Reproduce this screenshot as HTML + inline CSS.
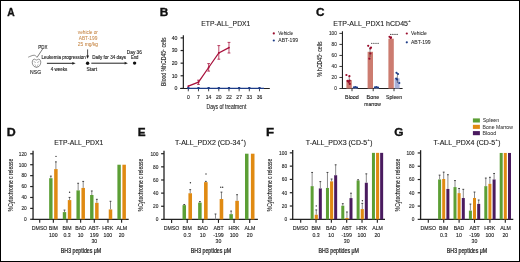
<!DOCTYPE html>
<html><head><meta charset="utf-8"><style>
html,body{margin:0;padding:0;background:#fff;}
svg{display:block;will-change:transform;}
text{font-family:"Liberation Sans",sans-serif;stroke-width:0.12px;stroke:currentColor;}
</style></head><body>
<svg width="520" height="262" viewBox="0 0 520 262">
<rect x="0" y="0" width="520" height="262" fill="#fff"/>
<text x="7.24" y="16.20" font-size="11.3" fill="#111" color="#111" textLength="7.43" lengthAdjust="spacingAndGlyphs" font-weight="bold" style="stroke-width:0.35px">A</text>
<text x="159.81" y="16.20" font-size="11.3" fill="#111" color="#111" textLength="8.52" lengthAdjust="spacingAndGlyphs" font-weight="bold" style="stroke-width:0.35px">B</text>
<text x="316.02" y="16.20" font-size="11.3" fill="#111" color="#111" textLength="8.50" lengthAdjust="spacingAndGlyphs" font-weight="bold" style="stroke-width:0.35px">C</text>
<text x="6.67" y="136.20" font-size="11.3" fill="#111" color="#111" textLength="8.95" lengthAdjust="spacingAndGlyphs" font-weight="bold" style="stroke-width:0.35px">D</text>
<text x="137.81" y="136.20" font-size="11.3" fill="#111" color="#111" textLength="7.85" lengthAdjust="spacingAndGlyphs" font-weight="bold" style="stroke-width:0.35px">E</text>
<text x="266.11" y="136.20" font-size="11.3" fill="#111" color="#111" textLength="8.07" lengthAdjust="spacingAndGlyphs" font-weight="bold" style="stroke-width:0.35px">F</text>
<text x="394.31" y="136.20" font-size="11.3" fill="#111" color="#111" textLength="9.22" lengthAdjust="spacingAndGlyphs" font-weight="bold" style="stroke-width:0.35px">G</text>
<text x="77.88" y="34.00" font-size="4.6" fill="#c78848" color="#c78848" textLength="20.00" lengthAdjust="spacingAndGlyphs" style="stroke-width:0.05px">vehicle or</text>
<text x="78.69" y="39.70" font-size="4.6" fill="#c78848" color="#c78848" textLength="18.64" lengthAdjust="spacingAndGlyphs" style="stroke-width:0.05px">ABT-199</text>
<text x="77.85" y="45.50" font-size="4.6" fill="#c78848" color="#c78848" textLength="20.26" lengthAdjust="spacingAndGlyphs" style="stroke-width:0.05px">25 mg/kg</text>
<text x="38.23" y="48.60" font-size="4.6" fill="#222" color="#222" textLength="9.16" lengthAdjust="spacingAndGlyphs">PDX</text>
<text x="41.53" y="59.30" font-size="4.6" fill="#222" color="#222" textLength="44.16" lengthAdjust="spacingAndGlyphs">Leukemia progression</text>
<text x="50.70" y="70.50" font-size="4.7" fill="#222" color="#222" textLength="16.57" lengthAdjust="spacingAndGlyphs">4 weeks</text>
<text x="30.08" y="74.40" font-size="5.4" fill="#222" color="#222" textLength="11.00" lengthAdjust="spacingAndGlyphs">NSG</text>
<text x="86.57" y="70.90" font-size="4.7" fill="#222" color="#222" textLength="10.46" lengthAdjust="spacingAndGlyphs">Start</text>
<text x="92.23" y="59.30" font-size="4.6" fill="#222" color="#222" textLength="33.84" lengthAdjust="spacingAndGlyphs">Daily for 34 days</text>
<text x="126.81" y="54.00" font-size="4.7" fill="#222" color="#222" textLength="15.10" lengthAdjust="spacingAndGlyphs">Day 36</text>
<text x="130.95" y="59.30" font-size="4.7" fill="#222" color="#222" textLength="7.52" lengthAdjust="spacingAndGlyphs">End</text>
<line x1="46.90" y1="63.30" x2="73.00" y2="63.30" stroke="#222" stroke-width="1.0"/>
<path d="M75.6,63.3 L72.3,61.9 L72.3,64.7 Z" fill="#222"/>
<line x1="91.30" y1="63.20" x2="125.50" y2="63.20" stroke="#222" stroke-width="1.0"/>
<path d="M127.9,63.2 L124.6,61.8 L124.6,64.6 Z" fill="#222"/>
<line x1="87.60" y1="49.40" x2="87.60" y2="56.50" stroke="#222" stroke-width="0.8"/>
<path d="M87.6,58.7 L86.2,55.4 L89.0,55.4 Z" fill="#222"/>
<circle cx="87.60" cy="63.20" r="1.7" fill="#111"/>
<circle cx="134.60" cy="63.10" r="1.7" fill="#111"/>
<line x1="42.70" y1="48.90" x2="36.90" y2="57.60" stroke="#222" stroke-width="0.6"/>
<path d="M28.2,57.2 Q29.5,56.6 31.0,56.0 Q33.0,55.0 34.6,55.3 Q35.8,55.6 36.6,56.8" fill="none" stroke="#444" stroke-width="0.6"/>
<path d="M33.2,59.6 C31.6,61.0 32.0,64.6 34.0,66.4 Q36.5,68.4 39.0,66.4 C41.0,64.6 41.4,61.0 39.8,59.6 Q38.6,58.7 37.6,59.6 Q36.5,60.4 35.4,59.6 Q34.4,58.7 33.2,59.6 Z" fill="none" stroke="#555" stroke-width="0.65"/>
<path d="M33.7,61.4 L35.8,62.6 M39.3,61.4 L37.2,62.6 M34.6,64.4 L35.9,65.6 M38.4,64.4 L37.1,65.6 M35.6,66.4 L36.5,67.0 L37.4,66.4" fill="none" stroke="#666" stroke-width="0.5"/>
<text x="201.34" y="26.00" font-size="7.8" fill="#222" color="#222" textLength="48.99" lengthAdjust="spacingAndGlyphs">ETP-ALL_PDX1</text>
<line x1="183.35" y1="35.30" x2="183.35" y2="89.00" stroke="#222" stroke-width="1.2"/>
<line x1="180.20" y1="88.50" x2="269.80" y2="88.50" stroke="#222" stroke-width="1"/>
<line x1="180.60" y1="88.40" x2="183.40" y2="88.40" stroke="#222" stroke-width="1.2"/>
<text x="174.61" y="90.20" font-size="5.2" fill="#222" color="#222">0</text>
<line x1="180.60" y1="75.78" x2="183.40" y2="75.78" stroke="#222" stroke-width="1.2"/>
<text x="171.72" y="77.58" font-size="5.2" fill="#222" color="#222">10</text>
<line x1="180.60" y1="63.15" x2="183.40" y2="63.15" stroke="#222" stroke-width="1.2"/>
<text x="171.72" y="64.95" font-size="5.2" fill="#222" color="#222">20</text>
<line x1="180.60" y1="50.53" x2="183.40" y2="50.53" stroke="#222" stroke-width="1.2"/>
<text x="171.72" y="52.33" font-size="5.2" fill="#222" color="#222">30</text>
<line x1="180.60" y1="37.90" x2="183.40" y2="37.90" stroke="#222" stroke-width="1.2"/>
<text x="171.72" y="39.70" font-size="5.2" fill="#222" color="#222">40</text>
<line x1="188.30" y1="88.50" x2="188.30" y2="91.30" stroke="#222" stroke-width="0.8"/>
<text x="186.91" y="99.20" font-size="5.0" fill="#222" color="#222" textLength="2.78" lengthAdjust="spacingAndGlyphs">0</text>
<line x1="198.47" y1="88.50" x2="198.47" y2="91.30" stroke="#222" stroke-width="0.8"/>
<text x="197.08" y="99.20" font-size="5.0" fill="#222" color="#222" textLength="2.78" lengthAdjust="spacingAndGlyphs">7</text>
<line x1="208.64" y1="88.50" x2="208.64" y2="91.30" stroke="#222" stroke-width="0.8"/>
<text x="205.74" y="99.20" font-size="5.0" fill="#222" color="#222" textLength="5.56" lengthAdjust="spacingAndGlyphs">14</text>
<line x1="218.81" y1="88.50" x2="218.81" y2="91.30" stroke="#222" stroke-width="0.8"/>
<text x="216.00" y="99.20" font-size="5.0" fill="#222" color="#222" textLength="5.56" lengthAdjust="spacingAndGlyphs">20</text>
<line x1="228.98" y1="88.50" x2="228.98" y2="91.30" stroke="#222" stroke-width="0.8"/>
<text x="226.20" y="99.20" font-size="5.0" fill="#222" color="#222" textLength="5.56" lengthAdjust="spacingAndGlyphs">22</text>
<line x1="239.15" y1="88.50" x2="239.15" y2="91.30" stroke="#222" stroke-width="0.8"/>
<text x="236.37" y="99.20" font-size="5.0" fill="#222" color="#222" textLength="5.56" lengthAdjust="spacingAndGlyphs">27</text>
<line x1="249.32" y1="88.50" x2="249.32" y2="91.30" stroke="#222" stroke-width="0.8"/>
<text x="246.56" y="99.20" font-size="5.0" fill="#222" color="#222" textLength="5.56" lengthAdjust="spacingAndGlyphs">33</text>
<line x1="259.49" y1="88.50" x2="259.49" y2="91.30" stroke="#222" stroke-width="0.8"/>
<text x="256.73" y="99.20" font-size="5.0" fill="#222" color="#222" textLength="5.56" lengthAdjust="spacingAndGlyphs">36</text>
<text x="206.49" y="109.30" font-size="7.2" fill="#222" color="#222" textLength="39.85" lengthAdjust="spacingAndGlyphs">Days of treatment</text>
<text transform="translate(165.90,85.91) rotate(-90)" x="0" y="0" font-size="6.3" fill="#222" color="#222" textLength="48.59" lengthAdjust="spacingAndGlyphs">Blood %hCD45<tspan dy="-2.08" font-size="3.91">+</tspan><tspan dy="2.08"> cells</tspan></text>
<line x1="187.50" y1="88.30" x2="264.00" y2="88.30" stroke="#1d3c88" stroke-width="1.2"/>
<path d="M187.00,87.1 L189.60,87.1 L188.30,90.0 Z" fill="#1d3c88"/>
<path d="M197.17,87.1 L199.77,87.1 L198.47,90.0 Z" fill="#1d3c88"/>
<path d="M207.34,87.1 L209.94,87.1 L208.64,90.0 Z" fill="#1d3c88"/>
<path d="M217.51,87.1 L220.11,87.1 L218.81,90.0 Z" fill="#1d3c88"/>
<path d="M227.68,87.1 L230.28,87.1 L228.98,90.0 Z" fill="#1d3c88"/>
<path d="M237.85,87.1 L240.45,87.1 L239.15,90.0 Z" fill="#1d3c88"/>
<path d="M248.02,87.1 L250.62,87.1 L249.32,90.0 Z" fill="#1d3c88"/>
<path d="M258.19,87.1 L260.79,87.1 L259.49,90.0 Z" fill="#1d3c88"/>
<polyline points="188.30,86.20 198.47,82.20 208.64,67.50 218.81,52.90 228.98,47.60" fill="none" stroke="#a8113c" stroke-width="1.25"/>
<circle cx="188.30" cy="86.20" r="0.9" fill="#a8113c"/>
<line x1="198.47" y1="80.20" x2="198.47" y2="84.40" stroke="#a8113c" stroke-width="0.75"/>
<line x1="197.07" y1="80.20" x2="199.87" y2="80.20" stroke="#a8113c" stroke-width="0.8"/>
<line x1="197.07" y1="84.40" x2="199.87" y2="84.40" stroke="#a8113c" stroke-width="0.8"/>
<circle cx="198.47" cy="82.20" r="0.9" fill="#a8113c"/>
<line x1="208.64" y1="63.60" x2="208.64" y2="71.10" stroke="#a8113c" stroke-width="0.75"/>
<line x1="207.24" y1="63.60" x2="210.04" y2="63.60" stroke="#a8113c" stroke-width="0.8"/>
<line x1="207.24" y1="71.10" x2="210.04" y2="71.10" stroke="#a8113c" stroke-width="0.8"/>
<circle cx="208.64" cy="67.50" r="0.9" fill="#a8113c"/>
<line x1="218.81" y1="45.60" x2="218.81" y2="59.20" stroke="#a8113c" stroke-width="0.75"/>
<line x1="217.41" y1="45.60" x2="220.21" y2="45.60" stroke="#a8113c" stroke-width="0.8"/>
<line x1="217.41" y1="59.20" x2="220.21" y2="59.20" stroke="#a8113c" stroke-width="0.8"/>
<circle cx="218.81" cy="52.90" r="0.9" fill="#a8113c"/>
<line x1="228.98" y1="42.40" x2="228.98" y2="53.00" stroke="#a8113c" stroke-width="0.75"/>
<line x1="227.58" y1="42.40" x2="230.38" y2="42.40" stroke="#a8113c" stroke-width="0.8"/>
<line x1="227.58" y1="53.00" x2="230.38" y2="53.00" stroke="#a8113c" stroke-width="0.8"/>
<circle cx="228.98" cy="47.60" r="0.9" fill="#a8113c"/>
<circle cx="273.80" cy="33.40" r="1.1" fill="#9a0c2c"/>
<circle cx="273.80" cy="40.50" r="1.1" fill="#1d3c88"/>
<text x="278.28" y="34.80" font-size="4.8" fill="#222" color="#222" textLength="14.93" lengthAdjust="spacingAndGlyphs" style="stroke-width:0.05px">Vehicle</text>
<text x="278.29" y="41.90" font-size="4.8" fill="#222" color="#222" textLength="19.75" lengthAdjust="spacingAndGlyphs" style="stroke-width:0.05px">ABT-199</text>
<text x="333.32" y="26.00" font-size="7.8" fill="#222" color="#222" textLength="74.67" lengthAdjust="spacingAndGlyphs">ETP-ALL_PDX1 hCD45</text>
<text x="408.30" y="22.10" font-size="4.2" fill="#222" color="#222" textLength="2.40" lengthAdjust="spacingAndGlyphs">+</text>
<line x1="342.45" y1="31.20" x2="342.45" y2="89.00" stroke="#222" stroke-width="1.1"/>
<line x1="341.90" y1="88.50" x2="402.60" y2="88.50" stroke="#222" stroke-width="1.1"/>
<line x1="339.40" y1="88.50" x2="342.40" y2="88.50" stroke="#222" stroke-width="0.9"/>
<text x="334.17" y="90.20" font-size="4.7" fill="#333" color="#333">0</text>
<line x1="339.40" y1="77.48" x2="342.40" y2="77.48" stroke="#222" stroke-width="0.9"/>
<text x="331.56" y="79.18" font-size="4.7" fill="#333" color="#333">20</text>
<line x1="339.40" y1="66.46" x2="342.40" y2="66.46" stroke="#222" stroke-width="0.9"/>
<text x="331.56" y="68.16" font-size="4.7" fill="#333" color="#333">40</text>
<line x1="339.40" y1="55.44" x2="342.40" y2="55.44" stroke="#222" stroke-width="0.9"/>
<text x="331.56" y="57.14" font-size="4.7" fill="#333" color="#333">60</text>
<line x1="339.40" y1="44.42" x2="342.40" y2="44.42" stroke="#222" stroke-width="0.9"/>
<text x="331.56" y="46.12" font-size="4.7" fill="#333" color="#333">80</text>
<line x1="339.40" y1="33.40" x2="342.40" y2="33.40" stroke="#222" stroke-width="0.9"/>
<text x="328.94" y="35.10" font-size="4.7" fill="#333" color="#333">100</text>
<text transform="translate(322.10,76.88) rotate(-90)" x="0" y="0" font-size="6.3" fill="#222" color="#222" textLength="35.36" lengthAdjust="spacingAndGlyphs">% hCD45<tspan dy="-2.08" font-size="3.91">+</tspan><tspan dy="2.08"> cells</tspan></text>
<line x1="352.00" y1="88.50" x2="352.00" y2="91.20" stroke="#222" stroke-width="0.9"/>
<line x1="373.20" y1="88.50" x2="373.20" y2="91.20" stroke="#222" stroke-width="0.9"/>
<line x1="394.00" y1="88.50" x2="394.00" y2="91.20" stroke="#222" stroke-width="0.9"/>
<text x="345.06" y="98.70" font-size="4.8" fill="#222" color="#222" textLength="13.79" lengthAdjust="spacingAndGlyphs">Blood</text>
<text x="366.55" y="98.70" font-size="4.8" fill="#222" color="#222" textLength="12.69" lengthAdjust="spacingAndGlyphs">Bone</text>
<text x="364.37" y="105.60" font-size="4.8" fill="#222" color="#222" textLength="16.52" lengthAdjust="spacingAndGlyphs">marrow</text>
<text x="386.01" y="99.00" font-size="4.8" fill="#222" color="#222" textLength="16.07" lengthAdjust="spacingAndGlyphs">Spleen</text>
<rect x="346.40" y="80.10" width="5.40" height="8.40" fill="#cc7c70"/>
<rect x="367.60" y="51.80" width="5.40" height="36.70" fill="#cc7c70"/>
<rect x="388.40" y="38.70" width="5.40" height="49.80" fill="#cc7c70"/>
<rect x="352.60" y="87.20" width="5.00" height="1.30" fill="#a9b1d9"/>
<rect x="373.80" y="87.30" width="5.00" height="1.20" fill="#a9b1d9"/>
<rect x="394.60" y="78.30" width="5.00" height="10.20" fill="#a9b1d9"/>
<line x1="349.20" y1="76.00" x2="349.20" y2="84.00" stroke="#222" stroke-width="0.5"/>
<circle cx="346.40" cy="75.00" r="1.1" fill="#9a0c2c"/>
<circle cx="349.40" cy="76.20" r="1.1" fill="#9a0c2c"/>
<circle cx="347.60" cy="80.90" r="1.1" fill="#9a0c2c"/>
<circle cx="349.70" cy="80.60" r="1.1" fill="#9a0c2c"/>
<circle cx="349.80" cy="83.90" r="1.1" fill="#9a0c2c"/>
<circle cx="348.50" cy="81.80" r="1.1" fill="#9a0c2c"/>
<line x1="370.00" y1="47.00" x2="370.00" y2="57.00" stroke="#222" stroke-width="0.5"/>
<circle cx="368.20" cy="45.80" r="1.1" fill="#9a0c2c"/>
<circle cx="370.30" cy="48.50" r="1.1" fill="#9a0c2c"/>
<circle cx="371.00" cy="47.60" r="1.1" fill="#9a0c2c"/>
<circle cx="369.40" cy="58.70" r="1.1" fill="#9a0c2c"/>
<circle cx="370.40" cy="53.50" r="1.1" fill="#9a0c2c"/>
<circle cx="389.50" cy="36.80" r="1.1" fill="#9a0c2c"/>
<circle cx="390.70" cy="38.00" r="1.1" fill="#9a0c2c"/>
<circle cx="391.00" cy="37.40" r="1.1" fill="#9a0c2c"/>
<circle cx="354.00" cy="87.30" r="1.1" fill="#1d3c88"/>
<circle cx="355.50" cy="87.00" r="1.1" fill="#1d3c88"/>
<circle cx="357.00" cy="87.50" r="1.1" fill="#1d3c88"/>
<circle cx="375.00" cy="87.30" r="1.1" fill="#1d3c88"/>
<circle cx="376.50" cy="87.00" r="1.1" fill="#1d3c88"/>
<circle cx="378.00" cy="87.50" r="1.1" fill="#1d3c88"/>
<line x1="397.40" y1="73.00" x2="397.40" y2="83.00" stroke="#222" stroke-width="0.5"/>
<circle cx="396.50" cy="72.80" r="1.1" fill="#1d3c88"/>
<circle cx="398.00" cy="74.00" r="1.1" fill="#1d3c88"/>
<circle cx="397.00" cy="79.50" r="1.1" fill="#1d3c88"/>
<circle cx="399.30" cy="83.00" r="1.1" fill="#1d3c88"/>
<circle cx="396.20" cy="78.50" r="1.1" fill="#1d3c88"/>
<circle cx="371.80" cy="43.30" r="0.6" fill="#222"/>
<circle cx="373.90" cy="43.30" r="0.6" fill="#222"/>
<circle cx="376.00" cy="43.30" r="0.6" fill="#222"/>
<circle cx="378.10" cy="43.30" r="0.6" fill="#222"/>
<circle cx="390.80" cy="34.40" r="0.6" fill="#222"/>
<circle cx="392.90" cy="34.40" r="0.6" fill="#222"/>
<circle cx="395.00" cy="34.40" r="0.6" fill="#222"/>
<circle cx="397.10" cy="34.40" r="0.6" fill="#222"/>
<circle cx="406.80" cy="33.50" r="1.1" fill="#9a0c2c"/>
<circle cx="406.80" cy="42.30" r="1.1" fill="#1d3c88"/>
<text x="410.98" y="34.90" font-size="4.8" fill="#222" color="#222" textLength="15.74" lengthAdjust="spacingAndGlyphs" style="stroke-width:0.05px">Vehicle</text>
<text x="410.99" y="43.60" font-size="4.8" fill="#222" color="#222" textLength="19.65" lengthAdjust="spacingAndGlyphs" style="stroke-width:0.05px">ABT-199</text>
<line x1="33.05" y1="150.80" x2="33.05" y2="219.90" stroke="#222" stroke-width="1.3"/>
<line x1="32.45" y1="219.30" x2="128.70" y2="219.30" stroke="#222" stroke-width="1.2"/>
<line x1="30.15" y1="219.30" x2="33.05" y2="219.30" stroke="#222" stroke-width="1.2"/>
<text x="24.12" y="221.10" font-size="4.8" fill="#2a2a2a" color="#2a2a2a">0</text>
<line x1="30.15" y1="208.38" x2="33.05" y2="208.38" stroke="#222" stroke-width="1.2"/>
<text x="21.45" y="210.18" font-size="4.8" fill="#2a2a2a" color="#2a2a2a">20</text>
<line x1="30.15" y1="197.47" x2="33.05" y2="197.47" stroke="#222" stroke-width="1.2"/>
<text x="21.45" y="199.27" font-size="4.8" fill="#2a2a2a" color="#2a2a2a">40</text>
<line x1="30.15" y1="186.55" x2="33.05" y2="186.55" stroke="#222" stroke-width="1.2"/>
<text x="21.45" y="188.35" font-size="4.8" fill="#2a2a2a" color="#2a2a2a">60</text>
<line x1="30.15" y1="175.64" x2="33.05" y2="175.64" stroke="#222" stroke-width="1.2"/>
<text x="21.45" y="177.44" font-size="4.8" fill="#2a2a2a" color="#2a2a2a">80</text>
<line x1="30.15" y1="164.72" x2="33.05" y2="164.72" stroke="#222" stroke-width="1.2"/>
<text x="18.78" y="166.52" font-size="4.8" fill="#2a2a2a" color="#2a2a2a">100</text>
<line x1="30.15" y1="153.80" x2="33.05" y2="153.80" stroke="#222" stroke-width="1.2"/>
<text x="18.78" y="155.60" font-size="4.8" fill="#2a2a2a" color="#2a2a2a">120</text>
<text transform="translate(12.50,211.38) rotate(-90)" x="0" y="0" font-size="6.4" fill="#222" color="#222" textLength="52.60" lengthAdjust="spacingAndGlyphs">%Cytochrome c release</text>
<text x="54.34" y="145.20" font-size="6.6" fill="#222" color="#222" textLength="48.99" lengthAdjust="spacingAndGlyphs">ETP-ALL_PDX1</text>
<line x1="39.70" y1="219.30" x2="39.70" y2="222.80" stroke="#222" stroke-width="1.1"/>
<line x1="53.35" y1="219.30" x2="53.35" y2="222.80" stroke="#222" stroke-width="1.1"/>
<line x1="67.00" y1="219.30" x2="67.00" y2="222.80" stroke="#222" stroke-width="1.1"/>
<line x1="80.65" y1="219.30" x2="80.65" y2="222.80" stroke="#222" stroke-width="1.1"/>
<line x1="94.30" y1="219.30" x2="94.30" y2="222.80" stroke="#222" stroke-width="1.1"/>
<line x1="107.95" y1="219.30" x2="107.95" y2="222.80" stroke="#222" stroke-width="1.1"/>
<line x1="121.60" y1="219.30" x2="121.60" y2="222.80" stroke="#222" stroke-width="1.1"/>
<text x="31.81" y="230.00" font-size="5.2" fill="#222" color="#222" textLength="15.60" lengthAdjust="spacingAndGlyphs">DMSO</text>
<text x="48.73" y="230.00" font-size="5.2" fill="#222" color="#222" textLength="9.24" lengthAdjust="spacingAndGlyphs">BIM</text>
<text x="48.92" y="236.80" font-size="5.2" fill="#222" color="#222" textLength="8.68" lengthAdjust="spacingAndGlyphs">100</text>
<text x="62.38" y="230.00" font-size="5.2" fill="#222" color="#222" textLength="9.24" lengthAdjust="spacingAndGlyphs">BIM</text>
<text x="63.40" y="236.80" font-size="5.2" fill="#222" color="#222" textLength="7.23" lengthAdjust="spacingAndGlyphs">0.3</text>
<text x="75.22" y="230.00" font-size="5.2" fill="#222" color="#222" textLength="10.69" lengthAdjust="spacingAndGlyphs">BAD</text>
<text x="77.66" y="236.80" font-size="5.2" fill="#222" color="#222" textLength="5.78" lengthAdjust="spacingAndGlyphs">10</text>
<text x="88.63" y="230.00" font-size="5.2" fill="#222" color="#222" textLength="11.56" lengthAdjust="spacingAndGlyphs">ABT-</text>
<text x="89.89" y="236.80" font-size="5.2" fill="#222" color="#222" textLength="8.68" lengthAdjust="spacingAndGlyphs">199</text>
<text x="91.41" y="243.20" font-size="5.2" fill="#222" color="#222" textLength="5.78" lengthAdjust="spacingAndGlyphs">30</text>
<text x="102.28" y="230.00" font-size="5.2" fill="#222" color="#222" textLength="10.98" lengthAdjust="spacingAndGlyphs">HRK</text>
<text x="103.52" y="236.80" font-size="5.2" fill="#222" color="#222" textLength="8.68" lengthAdjust="spacingAndGlyphs">100</text>
<text x="116.46" y="230.00" font-size="5.2" fill="#222" color="#222" textLength="10.69" lengthAdjust="spacingAndGlyphs">ALM</text>
<text x="118.68" y="236.80" font-size="5.2" fill="#222" color="#222" textLength="5.78" lengthAdjust="spacingAndGlyphs">20</text>
<text x="60.87" y="253.10" font-size="6.4" fill="#222" color="#222" textLength="40.36" lengthAdjust="spacingAndGlyphs" style="stroke-width:0.22px">BH3 peptides μM</text>
<rect x="49.15" y="178.20" width="3.40" height="41.10" fill="#5c9f35"/>
<line x1="50.85" y1="176.13" x2="50.85" y2="178.20" stroke="#8c8c8c" stroke-width="1.0"/>
<line x1="49.95" y1="176.13" x2="51.75" y2="176.13" stroke="#333" stroke-width="0.9"/>
<rect x="54.15" y="169.09" width="3.50" height="50.21" fill="#e08a12"/>
<line x1="55.90" y1="161.88" x2="55.90" y2="169.09" stroke="#8c8c8c" stroke-width="1.0"/>
<line x1="55.00" y1="161.88" x2="56.80" y2="161.88" stroke="#333" stroke-width="0.9"/>
<rect x="62.80" y="212.10" width="3.40" height="7.20" fill="#5c9f35"/>
<line x1="64.50" y1="210.08" x2="64.50" y2="212.10" stroke="#8c8c8c" stroke-width="1.0"/>
<line x1="63.60" y1="210.08" x2="65.40" y2="210.08" stroke="#333" stroke-width="0.9"/>
<rect x="67.80" y="200.09" width="3.50" height="19.21" fill="#e08a12"/>
<line x1="69.55" y1="197.41" x2="69.55" y2="200.09" stroke="#8c8c8c" stroke-width="1.0"/>
<line x1="68.65" y1="197.41" x2="70.45" y2="197.41" stroke="#333" stroke-width="0.9"/>
<rect x="76.45" y="190.37" width="3.40" height="28.93" fill="#5c9f35"/>
<line x1="78.15" y1="183.28" x2="78.15" y2="190.37" stroke="#8c8c8c" stroke-width="1.0"/>
<line x1="77.25" y1="183.28" x2="79.05" y2="183.28" stroke="#333" stroke-width="0.9"/>
<rect x="81.45" y="187.92" width="3.50" height="31.38" fill="#e08a12"/>
<line x1="83.20" y1="181.42" x2="83.20" y2="187.92" stroke="#8c8c8c" stroke-width="1.0"/>
<line x1="82.30" y1="181.42" x2="84.10" y2="181.42" stroke="#333" stroke-width="0.9"/>
<rect x="90.10" y="195.01" width="3.40" height="24.29" fill="#5c9f35"/>
<line x1="91.80" y1="190.97" x2="91.80" y2="195.01" stroke="#8c8c8c" stroke-width="1.0"/>
<line x1="90.90" y1="190.97" x2="92.70" y2="190.97" stroke="#333" stroke-width="0.9"/>
<rect x="95.10" y="202.82" width="3.50" height="16.48" fill="#e08a12"/>
<line x1="96.85" y1="199.32" x2="96.85" y2="202.82" stroke="#8c8c8c" stroke-width="1.0"/>
<line x1="95.95" y1="199.32" x2="97.75" y2="199.32" stroke="#333" stroke-width="0.9"/>
<rect x="108.75" y="209.42" width="3.50" height="9.88" fill="#e08a12"/>
<line x1="110.50" y1="201.29" x2="110.50" y2="209.42" stroke="#8c8c8c" stroke-width="1.0"/>
<line x1="109.60" y1="201.29" x2="111.40" y2="201.29" stroke="#333" stroke-width="0.9"/>
<rect x="117.40" y="164.72" width="3.40" height="54.58" fill="#5c9f35"/>
<rect x="122.40" y="164.72" width="3.50" height="54.58" fill="#e08a12"/>
<circle cx="56.00" cy="156.40" r="0.7" fill="#333"/>
<circle cx="69.60" cy="192.30" r="0.7" fill="#333"/>
<line x1="164.00" y1="150.80" x2="164.00" y2="220.00" stroke="#222" stroke-width="1.3"/>
<line x1="163.40" y1="219.40" x2="257.90" y2="219.40" stroke="#222" stroke-width="1.2"/>
<line x1="161.10" y1="219.40" x2="164.00" y2="219.40" stroke="#222" stroke-width="1.2"/>
<text x="155.72" y="221.20" font-size="4.8" fill="#2a2a2a" color="#2a2a2a">0</text>
<line x1="161.10" y1="206.26" x2="164.00" y2="206.26" stroke="#222" stroke-width="1.2"/>
<text x="153.05" y="208.06" font-size="4.8" fill="#2a2a2a" color="#2a2a2a">20</text>
<line x1="161.10" y1="193.12" x2="164.00" y2="193.12" stroke="#222" stroke-width="1.2"/>
<text x="153.05" y="194.92" font-size="4.8" fill="#2a2a2a" color="#2a2a2a">40</text>
<line x1="161.10" y1="179.98" x2="164.00" y2="179.98" stroke="#222" stroke-width="1.2"/>
<text x="153.05" y="181.78" font-size="4.8" fill="#2a2a2a" color="#2a2a2a">60</text>
<line x1="161.10" y1="166.84" x2="164.00" y2="166.84" stroke="#222" stroke-width="1.2"/>
<text x="153.05" y="168.64" font-size="4.8" fill="#2a2a2a" color="#2a2a2a">80</text>
<line x1="161.10" y1="153.70" x2="164.00" y2="153.70" stroke="#222" stroke-width="1.2"/>
<text x="150.38" y="155.50" font-size="4.8" fill="#2a2a2a" color="#2a2a2a">100</text>
<text transform="translate(143.00,211.38) rotate(-90)" x="0" y="0" font-size="6.4" fill="#222" color="#222" textLength="52.60" lengthAdjust="spacingAndGlyphs">%Cytochrome c release</text>
<text x="174.95" y="145.20" font-size="6.6" fill="#222" color="#222" textLength="65.36" lengthAdjust="spacingAndGlyphs">T-ALL_PDX2 (CD-34</text>
<text x="241.01" y="141.30" font-size="4.2" fill="#222" color="#222" textLength="2.28" lengthAdjust="spacingAndGlyphs">+</text>
<text x="243.86" y="145.30" font-size="6.6" fill="#222" color="#222">)</text>
<line x1="171.60" y1="219.40" x2="171.60" y2="222.90" stroke="#222" stroke-width="1.1"/>
<line x1="187.22" y1="219.40" x2="187.22" y2="222.90" stroke="#222" stroke-width="1.1"/>
<line x1="202.84" y1="219.40" x2="202.84" y2="222.90" stroke="#222" stroke-width="1.1"/>
<line x1="218.46" y1="219.40" x2="218.46" y2="222.90" stroke="#222" stroke-width="1.1"/>
<line x1="234.08" y1="219.40" x2="234.08" y2="222.90" stroke="#222" stroke-width="1.1"/>
<line x1="249.70" y1="219.40" x2="249.70" y2="222.90" stroke="#222" stroke-width="1.1"/>
<text x="163.71" y="230.00" font-size="5.2" fill="#222" color="#222" textLength="15.60" lengthAdjust="spacingAndGlyphs">DMSO</text>
<text x="182.60" y="230.00" font-size="5.2" fill="#222" color="#222" textLength="9.24" lengthAdjust="spacingAndGlyphs">BIM</text>
<text x="183.62" y="236.80" font-size="5.2" fill="#222" color="#222" textLength="7.23" lengthAdjust="spacingAndGlyphs">0.3</text>
<text x="197.41" y="230.00" font-size="5.2" fill="#222" color="#222" textLength="10.69" lengthAdjust="spacingAndGlyphs">BAD</text>
<text x="199.85" y="236.80" font-size="5.2" fill="#222" color="#222" textLength="5.78" lengthAdjust="spacingAndGlyphs">10</text>
<text x="213.46" y="230.00" font-size="5.2" fill="#222" color="#222" textLength="10.11" lengthAdjust="spacingAndGlyphs">ABT</text>
<text x="213.27" y="236.80" font-size="5.2" fill="#222" color="#222" textLength="10.41" lengthAdjust="spacingAndGlyphs">-199</text>
<text x="215.57" y="243.20" font-size="5.2" fill="#222" color="#222" textLength="5.78" lengthAdjust="spacingAndGlyphs">30</text>
<text x="228.41" y="230.00" font-size="5.2" fill="#222" color="#222" textLength="10.98" lengthAdjust="spacingAndGlyphs">HRK</text>
<text x="229.65" y="236.80" font-size="5.2" fill="#222" color="#222" textLength="8.68" lengthAdjust="spacingAndGlyphs">100</text>
<text x="244.56" y="230.00" font-size="5.2" fill="#222" color="#222" textLength="10.69" lengthAdjust="spacingAndGlyphs">ALM</text>
<text x="246.78" y="236.80" font-size="5.2" fill="#222" color="#222" textLength="5.78" lengthAdjust="spacingAndGlyphs">20</text>
<text x="190.87" y="253.10" font-size="6.4" fill="#222" color="#222" textLength="40.36" lengthAdjust="spacingAndGlyphs" style="stroke-width:0.22px">BH3 peptides μM</text>
<rect x="182.52" y="205.14" width="3.50" height="14.26" fill="#5c9f35"/>
<line x1="184.27" y1="204.49" x2="184.27" y2="205.14" stroke="#8c8c8c" stroke-width="1.0"/>
<line x1="183.37" y1="204.49" x2="185.17" y2="204.49" stroke="#333" stroke-width="0.9"/>
<rect x="188.42" y="193.25" width="3.60" height="26.15" fill="#e08a12"/>
<line x1="190.22" y1="189.64" x2="190.22" y2="193.25" stroke="#8c8c8c" stroke-width="1.0"/>
<line x1="189.32" y1="189.64" x2="191.12" y2="189.64" stroke="#333" stroke-width="0.9"/>
<rect x="198.14" y="202.65" width="3.50" height="16.75" fill="#5c9f35"/>
<line x1="199.89" y1="201.60" x2="199.89" y2="202.65" stroke="#8c8c8c" stroke-width="1.0"/>
<line x1="198.99" y1="201.60" x2="200.79" y2="201.60" stroke="#333" stroke-width="0.9"/>
<rect x="204.04" y="182.15" width="3.60" height="37.25" fill="#e08a12"/>
<line x1="205.84" y1="181.36" x2="205.84" y2="182.15" stroke="#8c8c8c" stroke-width="1.0"/>
<line x1="204.94" y1="181.36" x2="206.74" y2="181.36" stroke="#333" stroke-width="0.9"/>
<line x1="215.51" y1="214.01" x2="215.51" y2="219.40" stroke="#8c8c8c" stroke-width="1.0"/>
<line x1="214.61" y1="214.01" x2="216.41" y2="214.01" stroke="#333" stroke-width="0.9"/>
<rect x="219.66" y="199.03" width="3.60" height="20.37" fill="#e08a12"/>
<line x1="221.46" y1="192.13" x2="221.46" y2="199.03" stroke="#8c8c8c" stroke-width="1.0"/>
<line x1="220.56" y1="192.13" x2="222.36" y2="192.13" stroke="#333" stroke-width="0.9"/>
<rect x="229.38" y="214.14" width="3.50" height="5.26" fill="#5c9f35"/>
<line x1="231.13" y1="211.06" x2="231.13" y2="214.14" stroke="#8c8c8c" stroke-width="1.0"/>
<line x1="230.23" y1="211.06" x2="232.03" y2="211.06" stroke="#333" stroke-width="0.9"/>
<rect x="235.28" y="200.81" width="3.60" height="18.59" fill="#e08a12"/>
<line x1="237.08" y1="194.70" x2="237.08" y2="200.81" stroke="#8c8c8c" stroke-width="1.0"/>
<line x1="236.18" y1="194.70" x2="237.98" y2="194.70" stroke="#333" stroke-width="0.9"/>
<rect x="245.00" y="153.70" width="3.50" height="65.70" fill="#5c9f35"/>
<rect x="250.90" y="153.70" width="3.60" height="65.70" fill="#e08a12"/>
<circle cx="190.40" cy="182.80" r="0.7" fill="#333"/>
<circle cx="206.00" cy="174.00" r="0.7" fill="#333"/>
<circle cx="220.75" cy="187.20" r="0.7" fill="#333"/>
<circle cx="222.65" cy="187.20" r="0.7" fill="#333"/>
<line x1="292.70" y1="150.00" x2="292.70" y2="219.90" stroke="#222" stroke-width="1.3"/>
<line x1="292.10" y1="219.30" x2="385.00" y2="219.30" stroke="#222" stroke-width="1.2"/>
<line x1="289.80" y1="219.30" x2="292.70" y2="219.30" stroke="#222" stroke-width="1.2"/>
<text x="284.42" y="221.10" font-size="4.8" fill="#2a2a2a" color="#2a2a2a">0</text>
<line x1="289.80" y1="206.01" x2="292.70" y2="206.01" stroke="#222" stroke-width="1.2"/>
<text x="281.75" y="207.81" font-size="4.8" fill="#2a2a2a" color="#2a2a2a">20</text>
<line x1="289.80" y1="192.72" x2="292.70" y2="192.72" stroke="#222" stroke-width="1.2"/>
<text x="281.75" y="194.52" font-size="4.8" fill="#2a2a2a" color="#2a2a2a">40</text>
<line x1="289.80" y1="179.43" x2="292.70" y2="179.43" stroke="#222" stroke-width="1.2"/>
<text x="281.75" y="181.23" font-size="4.8" fill="#2a2a2a" color="#2a2a2a">60</text>
<line x1="289.80" y1="166.14" x2="292.70" y2="166.14" stroke="#222" stroke-width="1.2"/>
<text x="281.75" y="167.94" font-size="4.8" fill="#2a2a2a" color="#2a2a2a">80</text>
<line x1="289.80" y1="152.85" x2="292.70" y2="152.85" stroke="#222" stroke-width="1.2"/>
<text x="279.08" y="154.65" font-size="4.8" fill="#2a2a2a" color="#2a2a2a">100</text>
<text transform="translate(271.50,211.38) rotate(-90)" x="0" y="0" font-size="6.4" fill="#222" color="#222" textLength="52.60" lengthAdjust="spacingAndGlyphs">%Cytochrome c release</text>
<text x="305.75" y="145.20" font-size="6.6" fill="#222" color="#222" textLength="61.45" lengthAdjust="spacingAndGlyphs">T-ALL_PDX3 (CD-5</text>
<text x="367.41" y="141.30" font-size="4.2" fill="#222" color="#222" textLength="2.28" lengthAdjust="spacingAndGlyphs">+</text>
<text x="370.26" y="145.30" font-size="6.6" fill="#222" color="#222">)</text>
<line x1="300.70" y1="219.30" x2="300.70" y2="222.80" stroke="#222" stroke-width="1.1"/>
<line x1="316.03" y1="219.30" x2="316.03" y2="222.80" stroke="#222" stroke-width="1.1"/>
<line x1="331.36" y1="219.30" x2="331.36" y2="222.80" stroke="#222" stroke-width="1.1"/>
<line x1="346.69" y1="219.30" x2="346.69" y2="222.80" stroke="#222" stroke-width="1.1"/>
<line x1="362.02" y1="219.30" x2="362.02" y2="222.80" stroke="#222" stroke-width="1.1"/>
<line x1="377.35" y1="219.30" x2="377.35" y2="222.80" stroke="#222" stroke-width="1.1"/>
<text x="292.81" y="230.00" font-size="5.2" fill="#222" color="#222" textLength="15.60" lengthAdjust="spacingAndGlyphs">DMSO</text>
<text x="311.41" y="230.00" font-size="5.2" fill="#222" color="#222" textLength="9.24" lengthAdjust="spacingAndGlyphs">BIM</text>
<text x="312.43" y="236.80" font-size="5.2" fill="#222" color="#222" textLength="7.23" lengthAdjust="spacingAndGlyphs">0.3</text>
<text x="325.93" y="230.00" font-size="5.2" fill="#222" color="#222" textLength="10.69" lengthAdjust="spacingAndGlyphs">BAD</text>
<text x="328.37" y="236.80" font-size="5.2" fill="#222" color="#222" textLength="5.78" lengthAdjust="spacingAndGlyphs">10</text>
<text x="341.69" y="230.00" font-size="5.2" fill="#222" color="#222" textLength="10.11" lengthAdjust="spacingAndGlyphs">ABT</text>
<text x="341.50" y="236.80" font-size="5.2" fill="#222" color="#222" textLength="10.41" lengthAdjust="spacingAndGlyphs">-199</text>
<text x="343.80" y="243.20" font-size="5.2" fill="#222" color="#222" textLength="5.78" lengthAdjust="spacingAndGlyphs">30</text>
<text x="356.35" y="230.00" font-size="5.2" fill="#222" color="#222" textLength="10.98" lengthAdjust="spacingAndGlyphs">HRK</text>
<text x="357.59" y="236.80" font-size="5.2" fill="#222" color="#222" textLength="8.68" lengthAdjust="spacingAndGlyphs">100</text>
<text x="372.21" y="230.00" font-size="5.2" fill="#222" color="#222" textLength="10.69" lengthAdjust="spacingAndGlyphs">ALM</text>
<text x="374.43" y="236.80" font-size="5.2" fill="#222" color="#222" textLength="5.78" lengthAdjust="spacingAndGlyphs">20</text>
<text x="318.57" y="253.10" font-size="6.4" fill="#222" color="#222" textLength="40.36" lengthAdjust="spacingAndGlyphs" style="stroke-width:0.22px">BH3 peptides μM</text>
<rect x="310.63" y="186.14" width="3.00" height="33.16" fill="#5c9f35"/>
<line x1="312.13" y1="172.45" x2="312.13" y2="186.14" stroke="#8c8c8c" stroke-width="1.0"/>
<line x1="311.23" y1="172.45" x2="313.03" y2="172.45" stroke="#333" stroke-width="0.9"/>
<rect x="314.73" y="214.71" width="3.10" height="4.59" fill="#e08a12"/>
<line x1="316.28" y1="209.93" x2="316.28" y2="214.71" stroke="#8c8c8c" stroke-width="1.0"/>
<line x1="315.38" y1="209.93" x2="317.18" y2="209.93" stroke="#333" stroke-width="0.9"/>
<rect x="318.83" y="188.40" width="3.00" height="30.90" fill="#4a1b5f"/>
<line x1="320.33" y1="181.62" x2="320.33" y2="188.40" stroke="#8c8c8c" stroke-width="1.0"/>
<line x1="319.43" y1="181.62" x2="321.23" y2="181.62" stroke="#333" stroke-width="0.9"/>
<rect x="325.96" y="187.94" width="3.00" height="31.36" fill="#5c9f35"/>
<line x1="327.46" y1="172.45" x2="327.46" y2="187.94" stroke="#8c8c8c" stroke-width="1.0"/>
<line x1="326.56" y1="172.45" x2="328.36" y2="172.45" stroke="#333" stroke-width="0.9"/>
<rect x="330.06" y="181.36" width="3.10" height="37.94" fill="#e08a12"/>
<line x1="331.61" y1="179.03" x2="331.61" y2="181.36" stroke="#8c8c8c" stroke-width="1.0"/>
<line x1="330.71" y1="179.03" x2="332.51" y2="179.03" stroke="#333" stroke-width="0.9"/>
<rect x="334.16" y="175.24" width="3.00" height="44.06" fill="#4a1b5f"/>
<line x1="335.66" y1="164.81" x2="335.66" y2="175.24" stroke="#8c8c8c" stroke-width="1.0"/>
<line x1="334.76" y1="164.81" x2="336.56" y2="164.81" stroke="#333" stroke-width="0.9"/>
<rect x="341.29" y="205.68" width="3.00" height="13.62" fill="#5c9f35"/>
<line x1="342.79" y1="203.68" x2="342.79" y2="205.68" stroke="#8c8c8c" stroke-width="1.0"/>
<line x1="341.89" y1="203.68" x2="343.69" y2="203.68" stroke="#333" stroke-width="0.9"/>
<rect x="345.39" y="217.97" width="3.10" height="1.33" fill="#e08a12"/>
<line x1="346.94" y1="211.99" x2="346.94" y2="217.97" stroke="#8c8c8c" stroke-width="1.0"/>
<line x1="346.04" y1="211.99" x2="347.84" y2="211.99" stroke="#333" stroke-width="0.9"/>
<rect x="349.49" y="198.10" width="3.00" height="21.20" fill="#4a1b5f"/>
<line x1="350.99" y1="193.19" x2="350.99" y2="198.10" stroke="#8c8c8c" stroke-width="1.0"/>
<line x1="350.09" y1="193.19" x2="351.89" y2="193.19" stroke="#333" stroke-width="0.9"/>
<rect x="356.62" y="180.43" width="3.00" height="38.87" fill="#5c9f35"/>
<line x1="358.12" y1="179.76" x2="358.12" y2="180.43" stroke="#8c8c8c" stroke-width="1.0"/>
<line x1="357.22" y1="179.76" x2="359.02" y2="179.76" stroke="#333" stroke-width="0.9"/>
<rect x="360.72" y="209.07" width="3.10" height="10.23" fill="#e08a12"/>
<line x1="362.27" y1="203.35" x2="362.27" y2="209.07" stroke="#8c8c8c" stroke-width="1.0"/>
<line x1="361.37" y1="203.35" x2="363.17" y2="203.35" stroke="#333" stroke-width="0.9"/>
<rect x="364.82" y="182.75" width="3.00" height="36.55" fill="#4a1b5f"/>
<line x1="366.32" y1="173.85" x2="366.32" y2="182.75" stroke="#8c8c8c" stroke-width="1.0"/>
<line x1="365.42" y1="173.85" x2="367.22" y2="173.85" stroke="#333" stroke-width="0.9"/>
<rect x="371.95" y="152.85" width="3.00" height="66.45" fill="#5c9f35"/>
<rect x="376.05" y="152.85" width="3.10" height="66.45" fill="#e08a12"/>
<rect x="380.15" y="152.85" width="3.00" height="66.45" fill="#4a1b5f"/>
<circle cx="316.30" cy="205.90" r="0.7" fill="#333"/>
<circle cx="362.40" cy="200.80" r="0.7" fill="#333"/>
<line x1="420.60" y1="150.20" x2="420.60" y2="219.95" stroke="#222" stroke-width="1.3"/>
<line x1="420.00" y1="219.35" x2="513.30" y2="219.35" stroke="#222" stroke-width="1.2"/>
<line x1="417.70" y1="219.35" x2="420.60" y2="219.35" stroke="#222" stroke-width="1.2"/>
<text x="411.72" y="221.15" font-size="4.8" fill="#2a2a2a" color="#2a2a2a">0</text>
<line x1="417.70" y1="206.07" x2="420.60" y2="206.07" stroke="#222" stroke-width="1.2"/>
<text x="409.05" y="207.87" font-size="4.8" fill="#2a2a2a" color="#2a2a2a">20</text>
<line x1="417.70" y1="192.79" x2="420.60" y2="192.79" stroke="#222" stroke-width="1.2"/>
<text x="409.05" y="194.59" font-size="4.8" fill="#2a2a2a" color="#2a2a2a">40</text>
<line x1="417.70" y1="179.51" x2="420.60" y2="179.51" stroke="#222" stroke-width="1.2"/>
<text x="409.05" y="181.31" font-size="4.8" fill="#2a2a2a" color="#2a2a2a">60</text>
<line x1="417.70" y1="166.23" x2="420.60" y2="166.23" stroke="#222" stroke-width="1.2"/>
<text x="409.05" y="168.03" font-size="4.8" fill="#2a2a2a" color="#2a2a2a">80</text>
<line x1="417.70" y1="152.95" x2="420.60" y2="152.95" stroke="#222" stroke-width="1.2"/>
<text x="406.38" y="154.75" font-size="4.8" fill="#2a2a2a" color="#2a2a2a">100</text>
<text transform="translate(399.50,211.38) rotate(-90)" x="0" y="0" font-size="6.4" fill="#222" color="#222" textLength="52.60" lengthAdjust="spacingAndGlyphs">%Cytochrome c release</text>
<text x="433.45" y="145.20" font-size="6.6" fill="#222" color="#222" textLength="61.75" lengthAdjust="spacingAndGlyphs">T-ALL_PDX4 (CD-5</text>
<text x="495.41" y="141.30" font-size="4.2" fill="#222" color="#222" textLength="2.28" lengthAdjust="spacingAndGlyphs">+</text>
<text x="498.26" y="145.30" font-size="6.6" fill="#222" color="#222">)</text>
<line x1="428.30" y1="219.35" x2="428.30" y2="222.85" stroke="#222" stroke-width="1.1"/>
<line x1="443.70" y1="219.35" x2="443.70" y2="222.85" stroke="#222" stroke-width="1.1"/>
<line x1="459.10" y1="219.35" x2="459.10" y2="222.85" stroke="#222" stroke-width="1.1"/>
<line x1="474.50" y1="219.35" x2="474.50" y2="222.85" stroke="#222" stroke-width="1.1"/>
<line x1="489.90" y1="219.35" x2="489.90" y2="222.85" stroke="#222" stroke-width="1.1"/>
<line x1="505.30" y1="219.35" x2="505.30" y2="222.85" stroke="#222" stroke-width="1.1"/>
<text x="420.41" y="230.00" font-size="5.2" fill="#222" color="#222" textLength="15.60" lengthAdjust="spacingAndGlyphs">DMSO</text>
<text x="439.08" y="230.00" font-size="5.2" fill="#222" color="#222" textLength="9.24" lengthAdjust="spacingAndGlyphs">BIM</text>
<text x="440.10" y="236.80" font-size="5.2" fill="#222" color="#222" textLength="7.23" lengthAdjust="spacingAndGlyphs">0.3</text>
<text x="453.67" y="230.00" font-size="5.2" fill="#222" color="#222" textLength="10.69" lengthAdjust="spacingAndGlyphs">BAD</text>
<text x="456.11" y="236.80" font-size="5.2" fill="#222" color="#222" textLength="5.78" lengthAdjust="spacingAndGlyphs">10</text>
<text x="469.50" y="230.00" font-size="5.2" fill="#222" color="#222" textLength="10.11" lengthAdjust="spacingAndGlyphs">ABT</text>
<text x="469.31" y="236.80" font-size="5.2" fill="#222" color="#222" textLength="10.41" lengthAdjust="spacingAndGlyphs">-199</text>
<text x="471.61" y="243.20" font-size="5.2" fill="#222" color="#222" textLength="5.78" lengthAdjust="spacingAndGlyphs">30</text>
<text x="484.23" y="230.00" font-size="5.2" fill="#222" color="#222" textLength="10.98" lengthAdjust="spacingAndGlyphs">HRK</text>
<text x="485.47" y="236.80" font-size="5.2" fill="#222" color="#222" textLength="8.68" lengthAdjust="spacingAndGlyphs">100</text>
<text x="500.16" y="230.00" font-size="5.2" fill="#222" color="#222" textLength="10.69" lengthAdjust="spacingAndGlyphs">ALM</text>
<text x="502.38" y="236.80" font-size="5.2" fill="#222" color="#222" textLength="5.78" lengthAdjust="spacingAndGlyphs">20</text>
<text x="446.87" y="253.10" font-size="6.4" fill="#222" color="#222" textLength="40.36" lengthAdjust="spacingAndGlyphs" style="stroke-width:0.22px">BH3 peptides μM</text>
<rect x="438.10" y="179.44" width="3.00" height="39.91" fill="#5c9f35"/>
<line x1="439.60" y1="175.13" x2="439.60" y2="179.44" stroke="#8c8c8c" stroke-width="1.0"/>
<line x1="438.70" y1="175.13" x2="440.50" y2="175.13" stroke="#333" stroke-width="0.9"/>
<rect x="442.20" y="178.98" width="3.00" height="40.37" fill="#e08a12"/>
<line x1="443.70" y1="172.14" x2="443.70" y2="178.98" stroke="#8c8c8c" stroke-width="1.0"/>
<line x1="442.80" y1="172.14" x2="444.60" y2="172.14" stroke="#333" stroke-width="0.9"/>
<rect x="446.40" y="188.94" width="3.00" height="30.41" fill="#4a1b5f"/>
<line x1="447.90" y1="174.73" x2="447.90" y2="188.94" stroke="#8c8c8c" stroke-width="1.0"/>
<line x1="447.00" y1="174.73" x2="448.80" y2="174.73" stroke="#333" stroke-width="0.9"/>
<rect x="453.50" y="187.08" width="3.00" height="32.27" fill="#5c9f35"/>
<line x1="455.00" y1="180.57" x2="455.00" y2="187.08" stroke="#8c8c8c" stroke-width="1.0"/>
<line x1="454.10" y1="180.57" x2="455.90" y2="180.57" stroke="#333" stroke-width="0.9"/>
<rect x="457.60" y="193.12" width="3.00" height="26.23" fill="#e08a12"/>
<line x1="459.10" y1="188.47" x2="459.10" y2="193.12" stroke="#8c8c8c" stroke-width="1.0"/>
<line x1="458.20" y1="188.47" x2="460.00" y2="188.47" stroke="#333" stroke-width="0.9"/>
<rect x="461.80" y="198.04" width="3.00" height="21.31" fill="#4a1b5f"/>
<line x1="463.30" y1="189.34" x2="463.30" y2="198.04" stroke="#8c8c8c" stroke-width="1.0"/>
<line x1="462.40" y1="189.34" x2="464.20" y2="189.34" stroke="#333" stroke-width="0.9"/>
<rect x="468.90" y="210.65" width="3.00" height="8.70" fill="#5c9f35"/>
<line x1="470.40" y1="204.08" x2="470.40" y2="210.65" stroke="#8c8c8c" stroke-width="1.0"/>
<line x1="469.50" y1="204.08" x2="471.30" y2="204.08" stroke="#333" stroke-width="0.9"/>
<rect x="473.00" y="197.97" width="3.00" height="21.38" fill="#e08a12"/>
<line x1="474.50" y1="192.06" x2="474.50" y2="197.97" stroke="#8c8c8c" stroke-width="1.0"/>
<line x1="473.60" y1="192.06" x2="475.40" y2="192.06" stroke="#333" stroke-width="0.9"/>
<rect x="477.20" y="203.88" width="3.00" height="15.47" fill="#4a1b5f"/>
<line x1="478.70" y1="200.03" x2="478.70" y2="203.88" stroke="#8c8c8c" stroke-width="1.0"/>
<line x1="477.80" y1="200.03" x2="479.60" y2="200.03" stroke="#333" stroke-width="0.9"/>
<rect x="484.30" y="186.15" width="3.00" height="33.20" fill="#5c9f35"/>
<line x1="485.80" y1="178.05" x2="485.80" y2="186.15" stroke="#8c8c8c" stroke-width="1.0"/>
<line x1="484.90" y1="178.05" x2="486.70" y2="178.05" stroke="#333" stroke-width="0.9"/>
<rect x="488.40" y="183.83" width="3.00" height="35.52" fill="#e08a12"/>
<line x1="489.90" y1="177.32" x2="489.90" y2="183.83" stroke="#8c8c8c" stroke-width="1.0"/>
<line x1="489.00" y1="177.32" x2="490.80" y2="177.32" stroke="#333" stroke-width="0.9"/>
<rect x="492.60" y="179.44" width="3.00" height="39.91" fill="#4a1b5f"/>
<line x1="494.10" y1="173.47" x2="494.10" y2="179.44" stroke="#8c8c8c" stroke-width="1.0"/>
<line x1="493.20" y1="173.47" x2="495.00" y2="173.47" stroke="#333" stroke-width="0.9"/>
<rect x="499.70" y="152.95" width="3.00" height="66.40" fill="#5c9f35"/>
<rect x="503.80" y="152.95" width="3.00" height="66.40" fill="#e08a12"/>
<rect x="508.00" y="152.95" width="3.00" height="66.40" fill="#4a1b5f"/>
<rect x="472.90" y="118.40" width="7.00" height="4.10" fill="#5c9f35"/>
<text x="482.76" y="122.30" font-size="5.2" fill="#3a3a3a" color="#3a3a3a" textLength="16.49" lengthAdjust="spacingAndGlyphs" style="stroke-width:0.05px">Spleen</text>
<rect x="472.90" y="124.80" width="7.00" height="4.10" fill="#e08a12"/>
<text x="482.58" y="128.70" font-size="5.2" fill="#3a3a3a" color="#3a3a3a" textLength="30.31" lengthAdjust="spacingAndGlyphs" style="stroke-width:0.05px">Bone Marrow</text>
<rect x="472.90" y="131.10" width="7.00" height="4.10" fill="#4a1b5f"/>
<text x="482.56" y="135.00" font-size="5.2" fill="#3a3a3a" color="#3a3a3a" textLength="13.58" lengthAdjust="spacingAndGlyphs" style="stroke-width:0.05px">Blood</text>
<rect x="0.5" y="0.5" width="519" height="261" fill="none" stroke="#000" stroke-width="1"/>
</svg>
</body></html>
